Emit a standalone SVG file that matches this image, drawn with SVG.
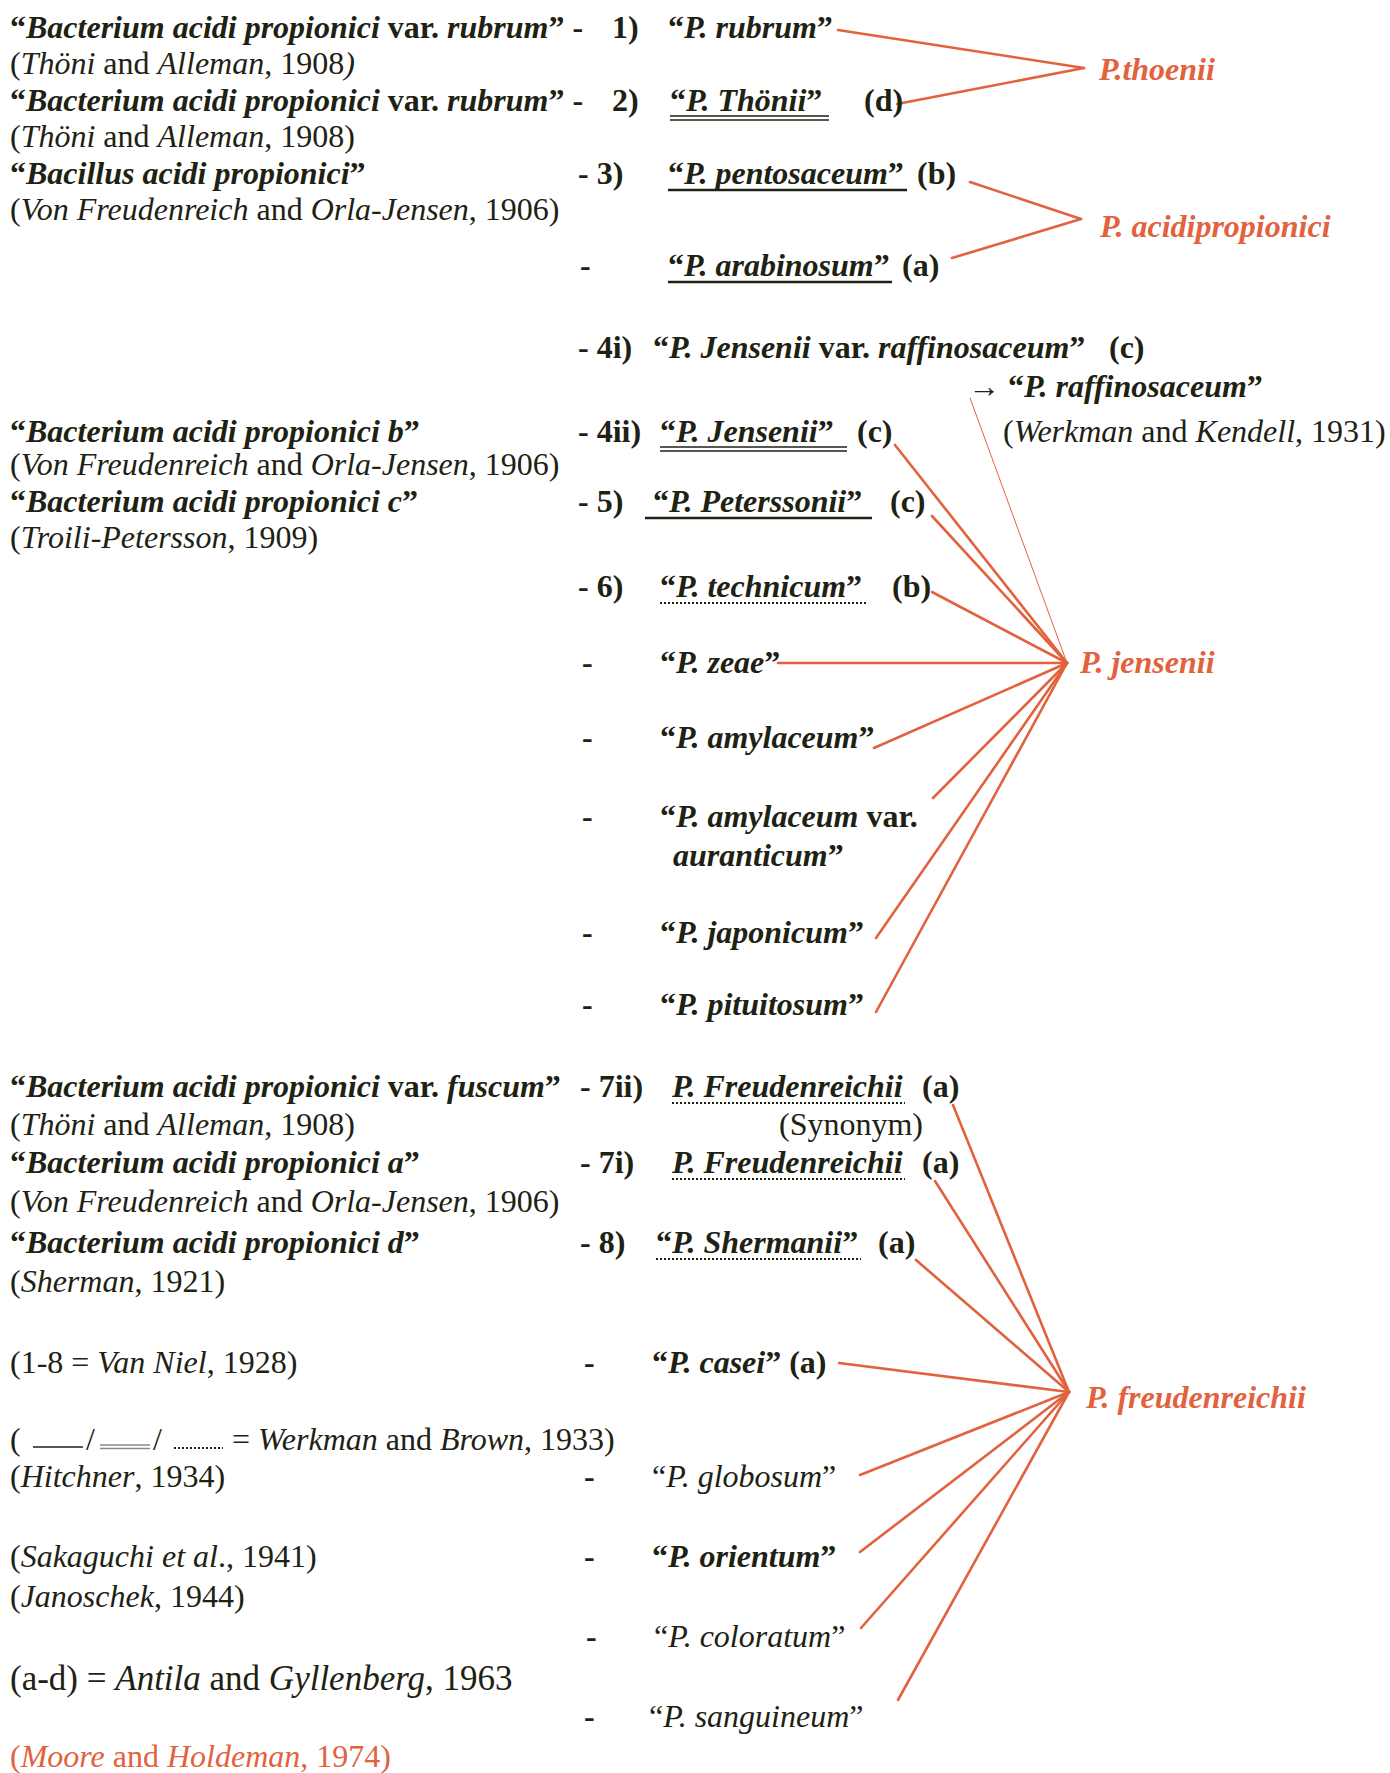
<svg xmlns="http://www.w3.org/2000/svg" width="1390" height="1773" viewBox="0 0 1390 1773">
<style>
.t{font-family:"Liberation Serif","Times New Roman",serif;font-size:32px;fill:#1e2213}
.b{font-weight:bold}
.i{font-style:italic}
.bi{font-weight:bold;font-style:italic}
.red{fill:#e2623e}
.big{font-size:35px}
.ln{stroke:#e2623e;stroke-width:2.6;fill:none;stroke-linecap:round}
.thin{stroke:#e2623e;stroke-width:1;fill:none}
.ul{stroke:#1e2213;stroke-width:2.4;fill:none}
.ul2{stroke:#1e2213;stroke-width:1.3;fill:none}
.dot{stroke:#1e2213;stroke-width:2;stroke-dasharray:2 2;fill:none}
</style>
<rect width="1390" height="1773" fill="#ffffff"/>

<g id="connectors">
  <line class="ln" x1="838" y1="30" x2="1084" y2="68"/>
  <line class="ln" x1="897" y1="104" x2="1084" y2="68"/>
  <line class="ln" x1="970" y1="182" x2="1081" y2="219"/>
  <line class="ln" x1="952" y1="258" x2="1081" y2="219"/>
  <line class="thin" x1="970" y1="398" x2="1067" y2="663"/>
  <line class="ln" x1="895" y1="445" x2="1067" y2="663"/>
  <line class="ln" x1="932" y1="516" x2="1067" y2="663"/>
  <line class="ln" x1="932" y1="592" x2="1067" y2="663"/>
  <line class="ln" x1="778" y1="663" x2="1067" y2="663"/>
  <line class="ln" x1="874" y1="748" x2="1067" y2="663"/>
  <line class="ln" x1="933" y1="798" x2="1067" y2="663"/>
  <line class="ln" x1="876" y1="938" x2="1067" y2="663"/>
  <line class="ln" x1="876" y1="1012" x2="1067" y2="663"/>
  <line class="ln" x1="953" y1="1105" x2="1069" y2="1392"/>
  <line class="ln" x1="935" y1="1181" x2="1069" y2="1392"/>
  <line class="ln" x1="916" y1="1260" x2="1069" y2="1392"/>
  <line class="ln" x1="839" y1="1363" x2="1069" y2="1392"/>
  <line class="ln" x1="860" y1="1475" x2="1069" y2="1392"/>
  <line class="ln" x1="860" y1="1552" x2="1069" y2="1392"/>
  <line class="ln" x1="861" y1="1628" x2="1069" y2="1392"/>
  <line class="ln" x1="898" y1="1700" x2="1069" y2="1392"/>
</g>

<g id="targets">
  <text id="t-thoenii" class="t bi red" x="1099" y="80">P.thoenii</text>
  <text id="t-acidi" class="t bi red" x="1100" y="237">P. acidipropionici</text>
  <text id="t-jensenii" class="t bi red" x="1080" y="673">P. jensenii</text>
  <text id="t-freud" class="t bi red" x="1086" y="1408">P. freudenreichii</text>
</g>

<g id="left-column">
  <text class="t" x="10" y="38"><tspan class="b">“</tspan><tspan class="bi">Bacterium acidi propionici</tspan><tspan class="b"> var. </tspan><tspan class="bi">rubrum</tspan><tspan class="b">” -</tspan></text>
  <text class="t" x="10" y="74">(<tspan class="i">Thöni</tspan> and <tspan class="i">Alleman</tspan>, 1908<tspan class="i">)</tspan></text>
  <text class="t" x="10" y="111"><tspan class="b">“</tspan><tspan class="bi">Bacterium acidi propionici</tspan><tspan class="b"> var. </tspan><tspan class="bi">rubrum</tspan><tspan class="b">” -</tspan></text>
  <text class="t" x="10" y="147">(<tspan class="i">Thöni</tspan> and <tspan class="i">Alleman</tspan>, 1908)</text>
  <text class="t" x="10" y="184"><tspan class="b">“</tspan><tspan class="bi">Bacillus acidi propionici</tspan><tspan class="b">”</tspan></text>
  <text class="t" x="10" y="220">(<tspan class="i">Von Freudenreich</tspan> and <tspan class="i">Orla-Jensen</tspan>, 1906)</text>

  <text class="t" x="10" y="442"><tspan class="b">“</tspan><tspan class="bi">Bacterium acidi propionici b</tspan><tspan class="b">”</tspan></text>
  <text class="t" x="10" y="475">(<tspan class="i">Von Freudenreich</tspan> and <tspan class="i">Orla-Jensen</tspan>, 1906)</text>
  <text class="t" x="10" y="512"><tspan class="b">“</tspan><tspan class="bi">Bacterium acidi propionici c</tspan><tspan class="b">”</tspan></text>
  <text class="t" x="10" y="548">(<tspan class="i">Troili-Petersson</tspan>, 1909)</text>

  <text class="t" x="10" y="1097"><tspan class="b">“</tspan><tspan class="bi">Bacterium acidi propionici</tspan><tspan class="b"> var. </tspan><tspan class="bi">fuscum</tspan><tspan class="b">”</tspan></text>
  <text class="t" x="10" y="1135">(<tspan class="i">Thöni</tspan> and <tspan class="i">Alleman</tspan>, 1908)</text>
  <text class="t" x="10" y="1173"><tspan class="b">“</tspan><tspan class="bi">Bacterium acidi propionici a</tspan><tspan class="b">”</tspan></text>
  <text class="t" x="10" y="1212">(<tspan class="i">Von Freudenreich</tspan> and <tspan class="i">Orla-Jensen</tspan>, 1906)</text>
  <text class="t" x="10" y="1253"><tspan class="b">“</tspan><tspan class="bi">Bacterium acidi propionici d</tspan><tspan class="b">”</tspan></text>
  <text class="t" x="10" y="1292">(<tspan class="i">Sherman</tspan>, 1921)</text>

  <text class="t" x="10" y="1373">(1-8 = <tspan class="i">Van Niel</tspan>, 1928)</text>
  <g id="legend">
    <text class="t" x="10" y="1450">(</text>
    <line x1="33" y1="1447" x2="83" y2="1447" stroke="#1e2213" stroke-width="1.5"/>
    <text class="t" x="86" y="1450">/</text>
    <line x1="100" y1="1445" x2="150" y2="1445" stroke="#8a8a80" stroke-width="1.3"/>
    <line x1="100" y1="1448.5" x2="150" y2="1448.5" stroke="#8a8a80" stroke-width="1.3"/>
    <text class="t" x="153" y="1450">/</text>
    <line class="dot" x1="174" y1="1448" x2="223" y2="1448" stroke-width="1.3"/>
    <text class="t" x="232" y="1450">= <tspan class="i">Werkman</tspan> and <tspan class="i">Brown</tspan>, 1933)</text>
  </g>
  <text class="t" x="10" y="1487">(<tspan class="i">Hitchner</tspan>, 1934)</text>
  <text class="t" x="10" y="1567">(<tspan class="i">Sakaguchi et al</tspan>., 1941)</text>
  <text class="t" x="10" y="1607">(<tspan class="i">Janoschek</tspan>, 1944)</text>
  <text class="t big" x="10" y="1690">(a-d) = <tspan class="i">Antila</tspan> and <tspan class="i">Gyllenberg</tspan>, 1963</text>
  <text class="t red" x="10" y="1767">(<tspan class="i">Moore</tspan> and <tspan class="i">Holdeman</tspan>, 1974)</text>
</g>

<g id="n1">
  <text class="t b" x="612" y="38">1)</text>
  <text class="t b" x="668" y="38">“<tspan class="i">P. rubrum</tspan>”</text>
</g>
<g id="n2">
  <text class="t b" x="612" y="111">2)</text>
  <text class="t b" x="670" y="111">“<tspan class="i">P. Thönii</tspan>”</text>
  <line class="ul2" x1="670" y1="116" x2="829" y2="116"/>
  <line class="ul2" x1="670" y1="120" x2="829" y2="120"/>
  <text class="t b" x="864" y="111">(d)</text>
</g>
<g id="n3">
  <text class="t b" x="578" y="184">- 3)</text>
  <text class="t b" x="668" y="184">“<tspan class="i">P. pentosaceum</tspan>”</text>
  <line class="ul" x1="668" y1="190" x2="907" y2="190"/>
  <text class="t b" x="917" y="184">(b)</text>
</g>
<g id="n3b">
  <text class="t b" x="580" y="276">-</text>
  <text class="t b" x="668" y="276">“<tspan class="i">P. arabinosum</tspan>”</text>
  <line class="ul" x1="668" y1="282" x2="892" y2="282"/>
  <text class="t b" x="902" y="276">(a)</text>
</g>
<g id="n4i">
  <text class="t b" x="578" y="358">- 4i)</text>
  <text class="t b" x="653" y="358">“<tspan class="i">P. Jensenii</tspan> var. <tspan class="i">raffinosaceum</tspan>”</text>
  <text class="t b" x="1109" y="358">(c)</text>
  <text class="t b" x="968" y="397">→ “<tspan class="i">P. raffinosaceum</tspan>”</text>
  <text class="t" x="1003" y="442">(<tspan class="i">Werkman</tspan> and <tspan class="i">Kendell</tspan>, 1931)</text>
</g>
<g id="n4ii">
  <text class="t b" x="578" y="442">- 4ii)</text>
  <text class="t b" x="660" y="442">“<tspan class="i">P. Jensenii</tspan>”</text>
  <line class="ul2" x1="660" y1="447" x2="847" y2="447"/>
  <line class="ul2" x1="660" y1="451" x2="847" y2="451"/>
  <text class="t b" x="857" y="442">(c)</text>
</g>
<g id="n5">
  <text class="t b" x="578" y="512">- 5)</text>
  <text class="t b" x="653" y="512">“<tspan class="i">P. Peterssonii</tspan>”</text>
  <line class="ul" x1="645" y1="518" x2="872" y2="518"/>
  <text class="t b" x="890" y="512">(c)</text>
</g>
<g id="n6">
  <text class="t b" x="578" y="597">- 6)</text>
  <text class="t b" x="660" y="597">“<tspan class="i">P. technicum</tspan>”</text>
  <line class="dot" x1="660" y1="603" x2="867" y2="603"/>
  <text class="t b" x="892" y="597">(b)</text>
</g>
<g id="n-zeae">
  <text class="t b" x="582" y="673">-</text>
  <text class="t b" x="660" y="673">“<tspan class="i">P. zeae</tspan>”</text>
</g>
<g id="n-amyl">
  <text class="t b" x="582" y="748">-</text>
  <text class="t b" x="660" y="748">“<tspan class="i">P. amylaceum</tspan>”</text>
</g>
<g id="n-amylvar">
  <text class="t b" x="582" y="827">-</text>
  <text class="t b" x="660" y="827">“<tspan class="i">P. amylaceum</tspan> var.</text>
  <text class="t b" x="673" y="866"><tspan class="i">auranticum</tspan>”</text>
</g>
<g id="n-japon">
  <text class="t b" x="582" y="943">-</text>
  <text class="t b" x="660" y="943">“<tspan class="i">P. japonicum</tspan>”</text>
</g>
<g id="n-pitu">
  <text class="t b" x="582" y="1015">-</text>
  <text class="t b" x="660" y="1015">“<tspan class="i">P. pituitosum</tspan>”</text>
</g>
<g id="n7ii">
  <text class="t b" x="580" y="1097">- 7ii)</text>
  <text class="t bi" x="672" y="1097">P. Freudenreichii</text>
  <line class="dot" x1="672" y1="1103" x2="905" y2="1103"/>
  <text class="t b" x="922" y="1097">(a)</text>
  <text class="t" x="779" y="1135">(Synonym)</text>
</g>
<g id="n7i">
  <text class="t b" x="580" y="1173">- 7i)</text>
  <text class="t bi" x="672" y="1173">P. Freudenreichii</text>
  <line class="dot" x1="672" y1="1179" x2="905" y2="1179"/>
  <text class="t b" x="922" y="1173">(a)</text>
</g>
<g id="n8">
  <text class="t b" x="580" y="1253">- 8)</text>
  <text class="t b" x="656" y="1253">“<tspan class="i">P. Shermanii</tspan>”</text>
  <line class="dot" x1="656" y1="1259" x2="861" y2="1259"/>
  <text class="t b" x="878" y="1253">(a)</text>
</g>
<g id="n-casei">
  <text class="t b" x="584" y="1373">-</text>
  <text class="t b" x="652" y="1373">“<tspan class="i">P. casei</tspan>” (a)</text>
</g>
<g id="n-glob">
  <text class="t b" x="584" y="1487">-</text>
  <text class="t" x="652" y="1487">“<tspan class="i">P. globosum</tspan>”</text>
</g>
<g id="n-orient">
  <text class="t b" x="584" y="1567">-</text>
  <text class="t b" x="652" y="1567">“<tspan class="i">P. orientum</tspan>”</text>
</g>
<g id="n-color">
  <text class="t b" x="586" y="1647">-</text>
  <text class="t" x="654" y="1647">“<tspan class="i">P. coloratum</tspan>”</text>
</g>
<g id="n-sang">
  <text class="t b" x="584" y="1727">-</text>
  <text class="t" x="649" y="1727">“<tspan class="i">P. sanguineum</tspan>”</text>
</g>
</svg>
